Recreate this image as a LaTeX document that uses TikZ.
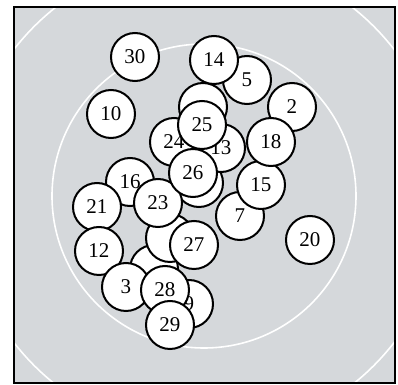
\documentclass[tikz,border=0pt]{standalone}
\usepackage{fontspec}
\setmainfont{Liberation Serif}
\usepackage{xcolor}
\usepackage{tikz}
\definecolor{scangray}{HTML}{D5D8DB}

\begin{document}
\begin{tikzpicture}[x=0.5pt, y=-0.5pt,
    disc/.style={circle, draw, fill=white, line width=1pt, minimum size=24pt,
                 inner sep=0pt, font=\fontsize{10.5}{12}\selectfont},
    ring/.style={draw=white, line width=0.8pt}]
    \useasboundingbox[fill=white] (0,0) rectangle (398,385);
    \fill[scangray] (14,7) rectangle (395,383);
    \begin{scope}
      \clip (14,7) rectangle (395,383);
      \draw[ring] (204,196) circle[radius=76pt];
      \draw[ring] (204,196) circle[radius=120pt];
    \end{scope}
    \draw[line width=0.8pt] (14,7) rectangle (395,383);
    % discs lying underneath
    \node[disc] (h1) at (203,107) {};
    \node[disc] (h2) at (199,183) {};
    \node[disc] (h3) at (154,269) {};
    \node[disc] (h4) at (170,238) {};
    \node[disc] (d9) at (189,304) {9};
    % upper group
    \node[disc] (d30) at (135,57) {30};
    \node[disc] (d10) at (111,114) {10};
    \node[disc] (d5) at (247,80) {5};
    \node[disc] (d14) at (214,60) {14};
    \node[disc] (d2) at (292,107) {2};
    \node[disc] (d7) at (240,216) {7};
    \node[disc] (d15) at (261,185) {15};
    \node[disc] (d18) at (271,142) {18};
    \node[disc] (d24) at (174,142) {24};
    \node[disc] (d13) at (221,148) {13};
    \node[disc] (d25) at (202,125) {25};
    % middle and lower group
    \node[disc] (d16) at (130,182) {16};
    \node[disc] (d21) at (97,207) {21};
    \node[disc] (d12) at (99,251) {12};
    \node[disc] (d23) at (158,203) {23};
    \node[disc] (d26) at (193,173) {26};
    \node[disc] (d27) at (194,245) {27};
    \node[disc] (d3) at (126,287) {3};
    \node[disc] (d28) at (165,290) {28};
    \node[disc] (d29) at (170,325) {29};
    \node[disc] (d20) at (310,240) {20};
\end{tikzpicture}
\end{document}
